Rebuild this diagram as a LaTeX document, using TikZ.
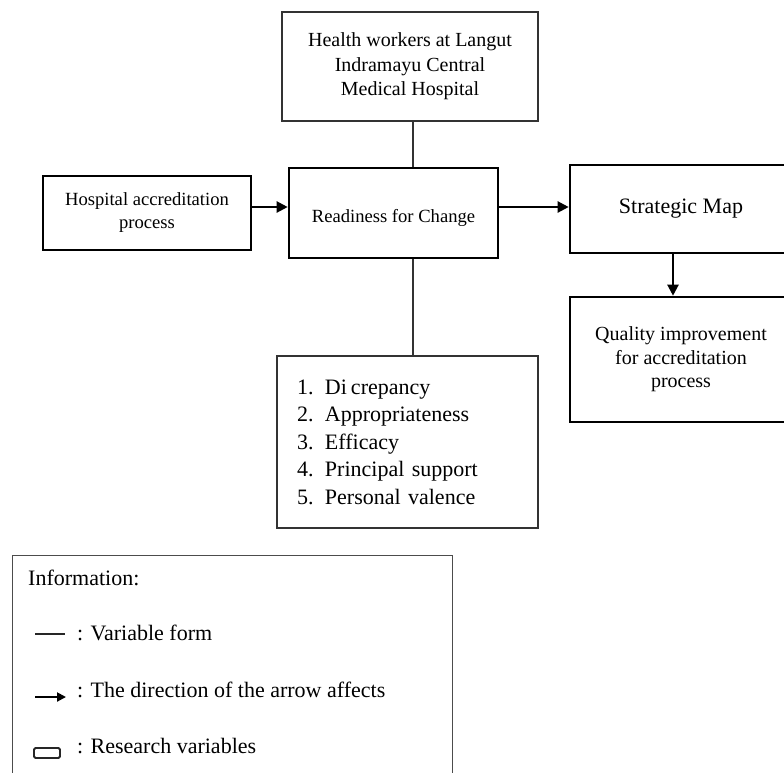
\documentclass[tikz,border=0pt]{standalone}
\usepackage{fontspec}
\setmainfont{Liberation Serif}
\usetikzlibrary{arrows.meta}
\begin{document}
\begin{tikzpicture}[x=1pt,y=-1pt,
  thinbox/.style={draw=black!80, line width=1.3pt, inner sep=0pt, align=center},
  thickbox/.style={draw=black, line width=2.6pt, inner sep=0pt, align=center},
  conn/.style={draw=black!80, line width=1.3pt},
  arr/.style={draw=black, line width=2.2pt, -{Triangle[length=11pt,width=11pt]}},
  legtext/.style={anchor=base west, inner sep=0pt, font=\fontsize{22}{26}\selectfont},
]
\useasboundingbox (0,0) rectangle (784,772);

% boxes
\node[thinbox, minimum width=256pt, minimum height=109pt,
      font=\fontsize{20}{24.5}\selectfont] (top) at (410,66.5)
  {Health workers at Langut\\Indramayu Central\\Medical Hospital};
\node[thickbox, minimum width=208pt, minimum height=74pt,
      font=\fontsize{18.6}{23}\selectfont] (hap) at (147,213)
  {Hospital accreditation\\process};
\node[thickbox, minimum width=209pt, minimum height=90pt] (rfc) at (393.5,213) {};
\node[inner sep=0pt, font=\fontsize{18.6}{23}\selectfont] (rfctext) at (393.5,218)
  {Readiness for Change};
\node[thickbox, minimum width=222pt, minimum height=88pt,
      font=\fontsize{22}{26}\selectfont] (smap) at (681,209)
  {Strategic Map};
\node[thickbox, minimum width=222pt, minimum height=125pt,
      font=\fontsize{20}{23.5}\selectfont] (qual) at (681,359.5)
  {Quality improvement\\for accreditation\\process};
\node[thinbox, minimum width=261pt, minimum height=172pt, align=left,
      inner xsep=20pt, text width=221pt,
      font=\fontsize{22}{27.5}\selectfont] (list) at (407.5,442)
  {\makebox[28pt][l]{1.}Di\kern4pt crepancy\\
   \makebox[28pt][l]{2.}Appropriateness\\
   \makebox[28pt][l]{3.}Efficacy\\
   \makebox[28pt][l]{4.}Principal support\\
   \makebox[28pt][l]{5.}Personal valence};

% connectors
\draw[conn] ([xshift=3pt]top.south) -- ([xshift=3pt]top.south |- rfc.north);
\draw[conn] ([xshift=5.5pt]list.north) -- ([xshift=5.5pt]list.north |- rfc.south);
\draw[arr] (hap.east |- rfc.center) ++(0,-6) coordinate (a1s) -- (a1s -| rfc.west);
\draw[arr] (rfc.east) ++(0,-6) coordinate (a2s) -- (a2s -| smap.west);
\draw[arr] ([xshift=-8pt]smap.south) -- ([xshift=-8pt]qual.north);

% legend
\node[draw=black!70, line width=1.3pt, minimum width=440pt, minimum height=240pt,
      anchor=north west, inner sep=0pt] (legend) at (12,555) {};
\node[legtext] (linf) at (28,585) {Information:};
\node[legtext] (lvar) at (77,640) {: Variable form};
\node[legtext] (ldir) at (77,697) {: The direction of the arrow affects};
\node[legtext] (lres) at (77,753) {: Research variables};
\coordinate (s1a) at (35,634); \coordinate (s1b) at (65,634);
\draw[line width=1.5pt, black!85] (s1a) -- (s1b);
\coordinate (s2a) at (35,697); \coordinate (s2b) at (66,697);
\draw[line width=2pt, -{Triangle[length=9pt,width=9pt]}] (s2a) -- (s2b);
\coordinate (s3a) at (34,748); \coordinate (s3b) at (60,758);
\draw[line width=1.8pt, rounded corners=1.5pt, black!85] (s3a) rectangle (s3b);
\end{tikzpicture}
\end{document}
